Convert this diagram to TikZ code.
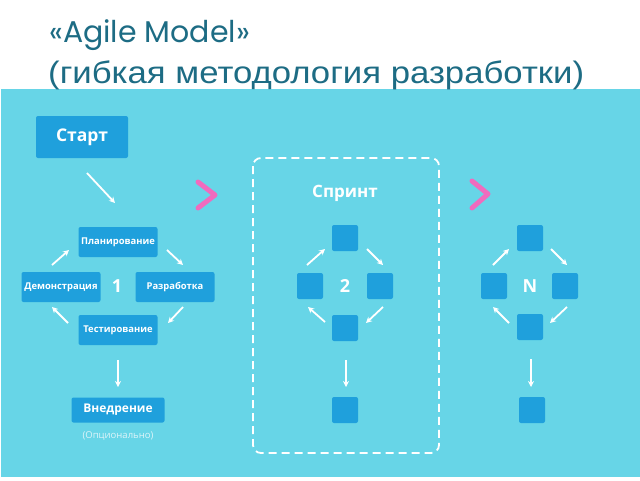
\documentclass[tikz,border=0pt]{standalone}
\usepackage{fontspec}
\setmainfont{Open Sans}
\newfontfamily\titleA{Poppins}
\newfontfamily\titleB[FakeStretch=1.12]{Liberation Sans}
\usetikzlibrary{arrows.meta}
\definecolor{bg}{HTML}{67D5E7}
\definecolor{boxblue}{HTML}{1FA0DC}
\definecolor{titlec}{HTML}{1D6C84}
\definecolor{pinkc}{HTML}{F06BBE}
\definecolor{softw}{HTML}{DDF4F9}
\tikzset{
  bluebox/.style={fill=boxblue, rounded corners=2pt, text=white, font=\bfseries, inner sep=0pt, anchor=center},
  sq/.style={bluebox, minimum width=26pt, minimum height=26pt},
  wbox/.style={bluebox, minimum width=79pt, minimum height=30pt, font=\bfseries\fontsize{9.4}{10}\selectfont},
  flow/.style={draw=white, line width=1.8pt, -{Stealth[length=6pt,width=6pt]}},
  chev/.style={draw=pinkc, line width=5pt, line cap=round, line join=round},
  numtxt/.style={text=white, font=\bfseries\fontsize{18}{20}\selectfont},
}
\begin{document}
\begin{tikzpicture}[x=1pt,y=-1pt]
\useasboundingbox (0,0) rectangle (640,480);
\fill[white] (0,0) rectangle (640,480);
\fill[bg] (1,89) rectangle (640,477);
% title
\node[anchor=base west, text=titlec, font=\titleA\fontsize{30}{32}\selectfont, inner sep=0pt] (t1) at (49,42) {«Agile Model»};
\node[anchor=base west, text=titlec, font=\titleB\fontsize{31}{33}\selectfont, inner sep=0pt] (t2) at (48,83) {(гибкая методология разработки)};

% left column
\node[bluebox, minimum width=92pt, minimum height=42pt, font=\bfseries\fontsize{17.5}{20}\selectfont] (start) at (82,137) {Старт};
\node[wbox] (plan) at (118,242) {Планирование};
\node[wbox] (demo) at (61,287) {Демонстрация};
\node[wbox] (razr) at (175,287) {Разработка};
\node[wbox] (test) at (118,330) {Тестирование};
\node[numtxt] (one) at (117,286) {1};
\node[bluebox, minimum width=93pt, minimum height=25pt, font=\bfseries\fontsize{12}{14}\selectfont] (vned) at (118,410) {Внедрение};
\node[text=softw, font=\fontsize{9.5}{11}\selectfont, inner sep=0pt] (opt) at (118,436) {(Опционально)};

\coordinate (a1s) at (87,173); \coordinate (a1e) at (115,203);
\coordinate (a2s) at (52,265); \coordinate (a2e) at (69,250);
\coordinate (a3s) at (167,250); \coordinate (a3e) at (183,265);
\coordinate (a4s) at (183,307); \coordinate (a4e) at (168,323);
\coordinate (a5s) at (68,323); \coordinate (a5e) at (52,307);
\coordinate (a6s) at (118,360); \coordinate (a6e) at (118,387);
\draw[flow] (a1s) -- (a1e);
\draw[flow] (a2s) -- (a2e);
\draw[flow] (a3s) -- (a3e);
\draw[flow] (a4s) -- (a4e);
\draw[flow] (a5s) -- (a5e);
\draw[flow] (a6s) -- (a6e);

% chevrons
\coordinate (c1a) at (198,182); \coordinate (c1b) at (215,195); \coordinate (c1c) at (198,208);
\draw[chev] (c1a) -- (c1b) -- (c1c);
\coordinate (c2a) at (472,181); \coordinate (c2b) at (488,194); \coordinate (c2c) at (472,208);
\draw[chev] (c2a) -- (c2b) -- (c2c);

% sprint box
\draw[white, line width=1.8pt, dash pattern=on 8pt off 5pt, rounded corners=8pt] (253,158) rectangle (439,453);
\node[text=white, font=\bfseries\fontsize{17}{20}\selectfont] (spr) at (345,193) {Спринт};

\node[sq] (s2t) at (345,238) {};
\node[sq] (s2l) at (310,286) {};
\node[sq] (s2r) at (380,286) {};
\node[sq] (s2b) at (345,328) {};
\node[sq] (s2f) at (345,410) {};
\node[numtxt] (two) at (345,286) {2};
\coordinate (b1s) at (307,265); \coordinate (b1e) at (325,249);
\coordinate (b2s) at (367,249); \coordinate (b2e) at (383,265);
\coordinate (b3s) at (383,307); \coordinate (b3e) at (366,323);
\coordinate (b4s) at (325,322); \coordinate (b4e) at (308,307);
\coordinate (b5s) at (346,360); \coordinate (b5e) at (346,387);
\draw[flow] (b1s) -- (b1e);
\draw[flow] (b2s) -- (b2e);
\draw[flow] (b3s) -- (b3e);
\draw[flow] (b4s) -- (b4e);
\draw[flow] (b5s) -- (b5e);

% N column
\node[sq] (sNt) at (530,238) {};
\node[sq] (sNl) at (494,286) {};
\node[sq] (sNr) at (565,286) {};
\node[sq] (sNb) at (530,327) {};
\node[sq] (sNf) at (532,410) {};
\node[numtxt] (nn) at (530,286) {N};
\coordinate (d1s) at (493,265); \coordinate (d1e) at (509,249);
\coordinate (d2s) at (551,249); \coordinate (d2e) at (567,265);
\coordinate (d3s) at (567,307); \coordinate (d3e) at (550,323);
\coordinate (d4s) at (509,323); \coordinate (d4e) at (493,307);
\coordinate (d5s) at (531,359); \coordinate (d5e) at (531,387);
\draw[flow] (d1s) -- (d1e);
\draw[flow] (d2s) -- (d2e);
\draw[flow] (d3s) -- (d3e);
\draw[flow] (d4s) -- (d4e);
\draw[flow] (d5s) -- (d5e);
\end{tikzpicture}
\end{document}
